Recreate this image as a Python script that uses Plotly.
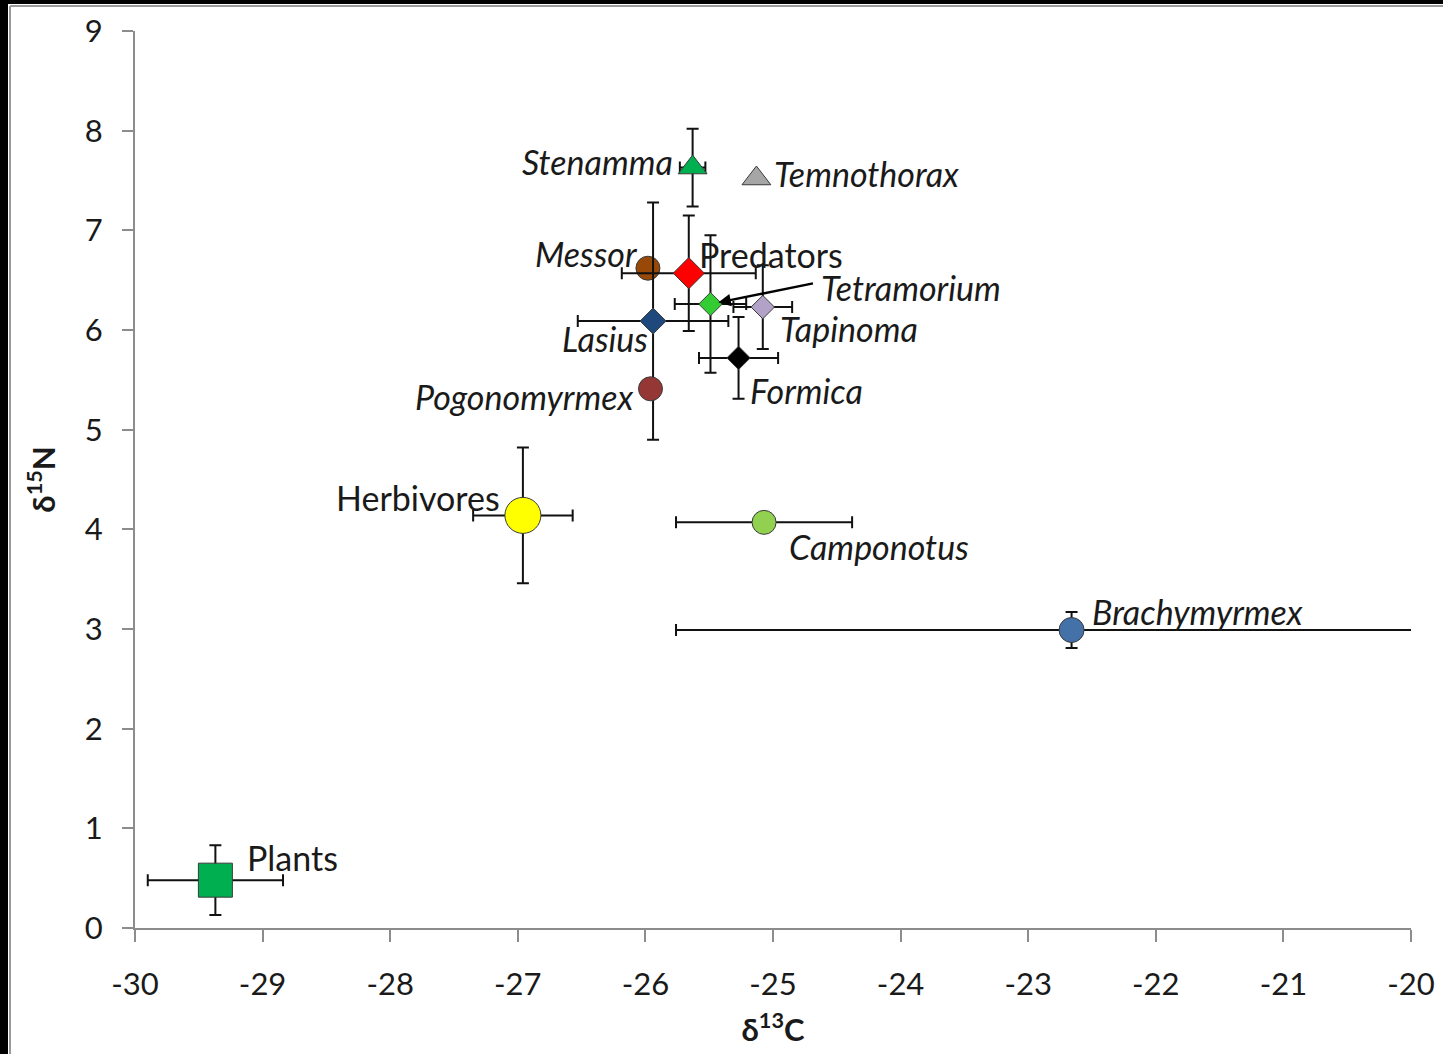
import plotly.graph_objects as go

# Stable isotope values (mean and SD) per group
groups = ["Plants", "Herbivores", "Camponotus", "Brachymyrmex", "Stenamma",
          "Temnothorax", "Messor", "Predators", "Lasius", "Tetramorium",
          "Tapinoma", "Formica", "Pogonomyrmex"]
d13c = [-29.37, -26.96, -25.07, -22.66, -25.63,
        -25.13, -25.98, -25.66, -25.94, -25.49,
        -25.08, -25.27, -25.96]
d15n = [0.48, 4.14, 4.07, 2.99, 7.63,
        7.52, 6.62, 6.57, 6.09, 6.26,
        6.23, 5.72, 5.41]
d13c_sd = [0.53, 0.39, 0.69, 3.10, 0.10,
           0.0, 0.0, 0.525, 0.59, 0.28,
           0.23, 0.31, 0.0]
d15n_sd = [0.35, 0.68, 0.0, 0.18, 0.39,
           0.0, 0.0, 0.58, 1.19, 0.69,
           0.42, 0.41, 0.0]

x_ticks = [-30, -29, -28, -27, -26, -25, -24, -23, -22, -21, -20]
x_tick_text = ["-30", "-29", "-28", "-27", "-26", "-25", "-24", "-23", "-22", "-21", "-20"]
y_ticks = [0, 1, 2, 3, 4, 5, 6, 7, 8, 9]

# Marker appearance: (fill, symbol, size)
style = {
    "Plants": ("#00B050", "square", 34),
    "Herbivores": ("#FFFF00", "circle", 36),
    "Camponotus": ("#92D050", "circle", 24),
    "Brachymyrmex": ("#4472A8", "circle", 25),
    "Stenamma": ("#00B050", "triangle-up", 25),
    "Temnothorax": ("#A6A6A6", "triangle-up", 25),
    "Messor": ("#984807", "circle", 24),
    "Predators": ("#FF0000", "diamond", 24),
    "Lasius": ("#1F497D", "diamond", 20),
    "Tetramorium": ("#33CC33", "diamond", 18),
    "Tapinoma": ("#B3A2C7", "diamond", 18),
    "Formica": ("#000000", "diamond", 18),
    "Pogonomyrmex": ("#953735", "circle", 24),
}

# Label placement: (anchor, x offset px, y offset px, italic)
label_pos = {
    "Plants": ("left", 30, 23, False),
    "Herbivores": ("right", -21, 18, False),
    "Camponotus": ("left", 23, -24, True),
    "Brachymyrmex": ("left", 18, 19, True),
    "Stenamma": ("right", -18, 6, True),
    "Temnothorax": ("left", 16, 5, True),
    "Messor": ("right", -8, 15, True),
    "Predators": ("left", 8, 19, False),
    "Lasius": ("right", -3, -17, True),
    "Tetramorium": ("left", 109, 17, True),
    "Tapinoma": ("left", 15, -21, True),
    "Formica": ("left", 9, -33, True),
    "Pogonomyrmex": ("right", -16, -8, True),
}

FONT = "Lato"
TXT = "#1a1a1a"

fig = go.Figure()
for g, x, y, sx, sy in zip(groups, d13c, d15n, d13c_sd, d15n_sd):
    fill, sym, size = style[g]
    fig.add_trace(go.Scatter(
        x=[x], y=[y], mode="markers", name=g, showlegend=False,
        marker=dict(color=fill, symbol=sym, size=size,
                    line=dict(color="#3a3a3a", width=1)),
        error_x=dict(type="data", array=[sx], visible=sx > 0,
                     color="#111111", thickness=2, width=6),
        error_y=dict(type="data", array=[sy], visible=sy > 0,
                     color="#111111", thickness=2, width=6),
    ))

annotations = []
for g, x, y in zip(groups, d13c, d15n):
    anchor, dx, dy, ital = label_pos[g]
    annotations.append(dict(
        x=x, y=y, xref="x", yref="y", text=f"<i>{g}</i>" if ital else g,
        showarrow=False, xanchor=anchor, yanchor="middle",
        xshift=dx, yshift=dy, font=dict(family=FONT, size=34, color=TXT)))

# Pointer from the Tetramorium label to its marker
ti = groups.index("Tetramorium")
annotations.append(dict(
    x=d13c[ti], y=d15n[ti], xref="x", yref="y", text="", showarrow=True,
    ax=104, ay=-21, arrowhead=2, arrowsize=1, arrowwidth=2.5,
    arrowcolor="#000000", standoff=8))

W, H = 1443, 1054
L, R, T, B = 135, 32, 31, 126


def px(xp):
    return (xp - L) / (W - L - R)


def py(yp):
    return (H - B - yp) / (H - T - B)


shapes = [
    dict(type="rect", xref="paper", yref="paper", x0=px(0), x1=px(W),
         y0=py(0), y1=py(4), fillcolor="#000000", line=dict(width=0), layer="above"),
    dict(type="rect", xref="paper", yref="paper", x0=px(0), x1=px(8),
         y0=py(H), y1=py(0), fillcolor="#000000", line=dict(width=0), layer="above"),
    dict(type="line", xref="paper", yref="paper", x0=px(10), x1=px(W),
         y0=py(6), y1=py(6), line=dict(color="#9a9a9a", width=2), layer="above"),
    dict(type="line", xref="paper", yref="paper", x0=px(10), x1=px(10),
         y0=py(H), y1=py(6), line=dict(color="#9a9a9a", width=2), layer="above"),
]

axis_common = dict(
    showgrid=False, zeroline=False, showline=True, linecolor="#8c8c8c",
    linewidth=2, ticks="outside", tickcolor="#8c8c8c", tickwidth=2,
    tickfont=dict(family=FONT, size=31, color=TXT), mirror=False,
    automargin=False,
)

fig.update_layout(
    width=W, height=H,
    margin=dict(l=L, r=R, t=T, b=B, pad=0, autoexpand=False),
    paper_bgcolor="white", plot_bgcolor="white",
    xaxis=dict(range=[-30, -20], tickvals=x_ticks, ticktext=x_tick_text,
               ticklen=12, ticklabelstandoff=16,
               title=dict(text="<b>δ<sup>13</sup>C</b>", standoff=18,
                          font=dict(family=FONT, size=31, color=TXT)),
               **axis_common),
    yaxis=dict(range=[0, 9], tickvals=y_ticks, ticklen=11,
               ticklabelstandoff=13,
               title=dict(text="<b>δ<sup>15</sup>N</b>", standoff=20,
                          font=dict(family=FONT, size=31, color=TXT)),
               **axis_common),
    annotations=annotations,
    shapes=shapes,
)

fig.write_html("out.html")
